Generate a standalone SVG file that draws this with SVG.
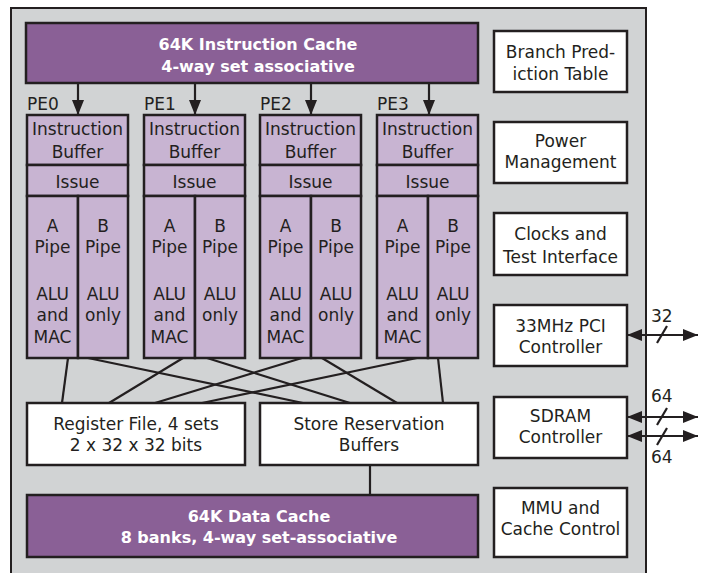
<svg xmlns="http://www.w3.org/2000/svg" width="704" height="573" viewBox="0 0 704 573">
<style>
.bg{fill:#d1d3d4;stroke:#231f20;stroke-width:2}
.dark{fill:#8a6096;stroke:#231f20;stroke-width:2.5}
.light{fill:#c8b4d2;stroke:#231f20;stroke-width:2.5}
.box{fill:#ffffff;stroke:#231f20;stroke-width:2.5}
.ln{stroke:#231f20;stroke-width:2.2;fill:none}
text{font-family:"DejaVu Sans","Open Sans","Liberation Sans",sans-serif;font-size:17px;fill:#231f20;text-anchor:middle}
.w{fill:#ffffff;font-weight:bold;font-size:16px}
.l{text-anchor:start}
</style>
<defs>
<marker id="ah" markerWidth="15" markerHeight="12" refX="15" refY="6" orient="auto" markerUnits="userSpaceOnUse">
<path d="M0,0 L15,6 L0,12 Z" fill="#231f20"/>
</marker>
<marker id="ah2" markerWidth="15" markerHeight="12" refX="15" refY="6" orient="auto-start-reverse" markerUnits="userSpaceOnUse">
<path d="M0,0 L15,6 L0,12 Z" fill="#231f20"/>
</marker>
</defs>
<rect x="0" y="0" width="704" height="573" fill="#ffffff"/>
<path class="bg" d="M11,580 L11,8 L646,8 L646,580"/>

<g id="icache">
<rect class="dark" x="26" y="23" width="452" height="60"/>
<text class="w"><tspan x="258" y="50">64K Instruction Cache</tspan><tspan x="258" y="72">4-way set associative</tspan></text>
</g>

<g id="pe0">
<text class="l" x="27" y="110">PE0</text>
<rect class="light" x="27" y="115" width="101" height="50"/>
<rect class="light" x="27" y="165" width="101" height="31"/>
<rect class="light" x="27" y="196" width="51" height="162"/>
<rect class="light" x="78" y="196" width="50" height="162"/>
<text><tspan x="77.5" y="135">Instruction</tspan><tspan x="77.5" y="158">Buffer</tspan></text>
<text x="77.5" y="188">Issue</text>
<text><tspan x="52.5" y="232">A</tspan><tspan x="52.5" y="253">Pipe</tspan><tspan x="52.5" y="300">ALU</tspan><tspan x="52.5" y="321">and</tspan><tspan x="52.5" y="343">MAC</tspan></text>
<text><tspan x="103" y="232">B</tspan><tspan x="103" y="253">Pipe</tspan><tspan x="103" y="300">ALU</tspan><tspan x="103" y="321">only</tspan></text>
</g>
<g id="pe1">
<text class="l" x="144" y="110">PE1</text>
<rect class="light" x="144" y="115" width="101" height="50"/>
<rect class="light" x="144" y="165" width="101" height="31"/>
<rect class="light" x="144" y="196" width="51" height="162"/>
<rect class="light" x="195" y="196" width="50" height="162"/>
<text><tspan x="194.5" y="135">Instruction</tspan><tspan x="194.5" y="158">Buffer</tspan></text>
<text x="194.5" y="188">Issue</text>
<text><tspan x="169.5" y="232">A</tspan><tspan x="169.5" y="253">Pipe</tspan><tspan x="169.5" y="300">ALU</tspan><tspan x="169.5" y="321">and</tspan><tspan x="169.5" y="343">MAC</tspan></text>
<text><tspan x="220" y="232">B</tspan><tspan x="220" y="253">Pipe</tspan><tspan x="220" y="300">ALU</tspan><tspan x="220" y="321">only</tspan></text>
</g>
<g id="pe2">
<text class="l" x="260" y="110">PE2</text>
<rect class="light" x="260" y="115" width="101" height="50"/>
<rect class="light" x="260" y="165" width="101" height="31"/>
<rect class="light" x="260" y="196" width="51" height="162"/>
<rect class="light" x="311" y="196" width="50" height="162"/>
<text><tspan x="310.5" y="135">Instruction</tspan><tspan x="310.5" y="158">Buffer</tspan></text>
<text x="310.5" y="188">Issue</text>
<text><tspan x="285.5" y="232">A</tspan><tspan x="285.5" y="253">Pipe</tspan><tspan x="285.5" y="300">ALU</tspan><tspan x="285.5" y="321">and</tspan><tspan x="285.5" y="343">MAC</tspan></text>
<text><tspan x="336" y="232">B</tspan><tspan x="336" y="253">Pipe</tspan><tspan x="336" y="300">ALU</tspan><tspan x="336" y="321">only</tspan></text>
</g>
<g id="pe3">
<text class="l" x="377" y="110">PE3</text>
<rect class="light" x="377" y="115" width="101" height="50"/>
<rect class="light" x="377" y="165" width="101" height="31"/>
<rect class="light" x="377" y="196" width="51" height="162"/>
<rect class="light" x="428" y="196" width="50" height="162"/>
<text><tspan x="427.5" y="135">Instruction</tspan><tspan x="427.5" y="158">Buffer</tspan></text>
<text x="427.5" y="188">Issue</text>
<text><tspan x="402.5" y="232">A</tspan><tspan x="402.5" y="253">Pipe</tspan><tspan x="402.5" y="300">ALU</tspan><tspan x="402.5" y="321">and</tspan><tspan x="402.5" y="343">MAC</tspan></text>
<text><tspan x="453" y="232">B</tspan><tspan x="453" y="253">Pipe</tspan><tspan x="453" y="300">ALU</tspan><tspan x="453" y="321">only</tspan></text>
</g>

<g id="regfile">
<rect class="box" x="27" y="403" width="218" height="62"/>
<text><tspan x="136" y="430">Register File, 4 sets</tspan><tspan x="136" y="451">2 x 32 x 32 bits</tspan></text>
</g>
<g id="storebuf">
<rect class="box" x="260" y="403" width="218" height="62"/>
<text><tspan x="369" y="430">Store Reservation</tspan><tspan x="369" y="451">Buffers</tspan></text>
</g>
<g id="dcache">
<rect class="dark" x="27" y="495" width="451" height="62"/>
<text class="w"><tspan x="259" y="522">64K Data Cache</tspan><tspan x="259" y="543">8 banks, 4-way set-associative</tspan></text>
</g>

<g id="branch">
<rect class="box" x="494" y="31" width="133" height="61"/>
<text><tspan x="560.5" y="58">Branch Pred-</tspan><tspan x="560.5" y="80">iction Table</tspan></text>
</g>
<g id="power">
<rect class="box" x="494" y="122" width="133" height="61"/>
<text><tspan x="560.5" y="147">Power</tspan><tspan x="560.5" y="168">Management</tspan></text>
</g>
<g id="clocks">
<rect class="box" x="494" y="213" width="133" height="62"/>
<text><tspan x="560.5" y="240">Clocks and</tspan><tspan x="560.5" y="263">Test Interface</tspan></text>
</g>
<g id="pci">
<rect class="box" x="494" y="305" width="133" height="61"/>
<text><tspan x="560.5" y="332">33MHz PCI</tspan><tspan x="560.5" y="353">Controller</tspan></text>
</g>
<g id="sdram">
<rect class="box" x="494" y="397" width="133" height="61"/>
<text><tspan x="560.5" y="422">SDRAM</tspan><tspan x="560.5" y="443">Controller</tspan></text>
</g>
<g id="mmu">
<rect class="box" x="494" y="488" width="133" height="69"/>
<text><tspan x="560.5" y="514">MMU and</tspan><tspan x="560.5" y="535">Cache Control</tspan></text>
</g>

<g id="connectors">
<line class="ln" x1="78" y1="84" x2="78" y2="115" marker-end="url(#ah)"/>
<line class="ln" x1="195" y1="84" x2="195" y2="115" marker-end="url(#ah)"/>
<line class="ln" x1="311" y1="84" x2="311" y2="115" marker-end="url(#ah)"/>
<line class="ln" x1="429" y1="84" x2="429" y2="115" marker-end="url(#ah)"/>

<line class="ln" x1="68" y1="358" x2="62" y2="403"/>
<line class="ln" x1="88" y1="358" x2="303" y2="403"/>
<line class="ln" x1="183" y1="358" x2="109" y2="403"/>
<line class="ln" x1="207" y1="358" x2="350" y2="403"/>
<line class="ln" x1="302" y1="358" x2="155" y2="403"/>
<line class="ln" x1="322" y1="358" x2="397" y2="403"/>
<line class="ln" x1="417" y1="358" x2="202" y2="403"/>
<line class="ln" x1="438" y1="358" x2="443" y2="403"/>
<line class="ln" x1="370" y1="465" x2="370" y2="495"/>

<line class="ln" x1="627" y1="335" x2="698" y2="335" marker-start="url(#ah2)" marker-end="url(#ah)"/>
<line class="ln" x1="657" y1="343" x2="667" y2="326"/>
<text class="l" x="651" y="322">32</text>
<line class="ln" x1="627" y1="417" x2="698" y2="417" marker-start="url(#ah2)" marker-end="url(#ah)"/>
<line class="ln" x1="657" y1="425" x2="667" y2="408"/>
<text class="l" x="651" y="402">64</text>
<line class="ln" x1="627" y1="436" x2="698" y2="436" marker-start="url(#ah2)" marker-end="url(#ah)"/>
<line class="ln" x1="657" y1="445" x2="667" y2="428"/>
<text class="l" x="651" y="463">64</text>
</g>
</svg>
